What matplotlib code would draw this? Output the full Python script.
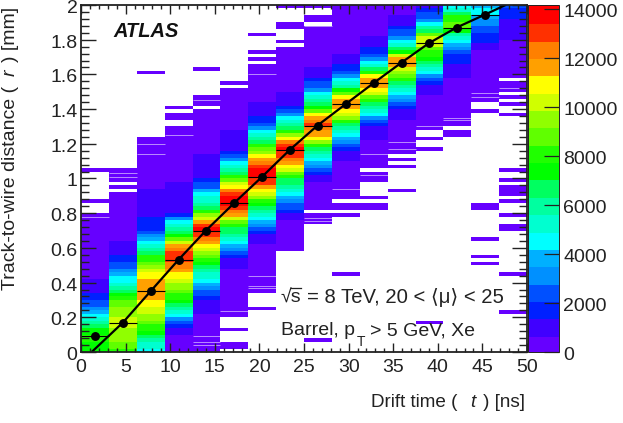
import numpy as np
import matplotlib
matplotlib.use("Agg")
import matplotlib.pyplot as plt
from matplotlib.colors import ListedColormap
from matplotlib.lines import Line2D
from matplotlib.ticker import MultipleLocator
from matplotlib.transforms import ScaledTranslation

plt.rcParams["font.family"] = ["Liberation Sans", "DejaVu Sans"]

# Histogram binning: 16 drift-time bins, 100 track-to-wire distance bins
t_edges = np.linspace(0, 50, 17)
r_edges = np.linspace(0, 2, 101)
background_count = 350
z_max = 14180

# Peak region of every time bin, in hundreds of entries, listed from core_start upward
core_start = [0, 0, 0, 0, 10, 23, 30, 37, 48, 54, 60, 66, 73, 78, 86, 89]
col00 = [72, 75, 76, 78, 78, 76, 72, 66, 60, 52, 46, 40, 34, 28, 24, 20, 16, 13, 11, 9, 8, 7]
col01 = [84, 88, 91, 94, 96, 98, 99, 100, 100, 100, 99, 97, 94, 90, 86, 81, 75, 69, 63, 56, 49,
         43, 37, 32, 27, 23, 19, 16, 13, 11, 9, 8]
col02 = [45, 50, 56, 62, 68, 74, 79, 84, 89, 94, 98, 102, 106, 110, 113, 115, 117, 119, 119, 118,
         116, 113, 109, 104, 98, 92, 85, 78, 70, 61, 52, 45, 37, 30, 25, 20, 18, 16, 15, 14, 11,
         10, 10, 9, 9, 8, 8, 7]
col03 = [6, 6, 6, 6, 7, 9, 12, 16, 25, 35, 45, 52, 60, 66, 72, 78, 84, 89, 94, 98, 103, 107, 111,
         117, 122, 127, 130, 132, 132, 124, 115, 106, 90, 75, 67, 58, 52, 45, 30, 18, 13, 12, 12,
         11, 11, 10, 10, 9, 8, 7]
col04 = [7, 8, 9, 11, 14, 18, 23, 28, 33, 38, 45, 50, 56, 62, 68, 74, 81, 88, 96, 105, 111, 117,
         123, 128, 132, 135, 128, 118, 106, 94, 82, 70, 62, 55, 50, 45, 37, 28, 22, 18, 14, 12,
         11, 10, 10, 9, 8, 7]
col05 = [7, 9, 11, 14, 18, 23, 29, 36, 45, 52, 58, 64, 70, 80, 92, 105, 115, 123, 130, 136, 138,
         137, 132, 123, 113, 105, 90, 78, 70, 62, 54, 45, 35, 25, 18, 14, 12, 11, 10, 9, 8]
col06 = [7, 8, 10, 13, 18, 22, 30, 38, 45, 52, 60, 68, 75, 85, 95, 106, 113, 120, 128, 134, 138,
         138, 136, 132, 125, 116, 108, 98, 88, 78, 70, 60, 52, 45, 35, 26, 20, 15, 12, 10, 9, 8, 7]
col07 = [7, 8, 11, 16, 22, 28, 35, 40, 45, 52, 58, 64, 70, 80, 90, 100, 108, 116, 122, 128, 133,
         135, 132, 124, 110, 96, 84, 70, 62, 54, 45, 34, 24, 18, 14, 12, 10, 8, 7]
col08 = [7, 9, 13, 20, 27, 33, 39, 45, 54, 62, 70, 85, 97, 107, 114, 120, 125, 128, 126, 118, 108,
         92, 72, 66, 58, 52, 45, 35, 28, 22, 18, 14, 11, 9, 7]
col09 = [7, 8, 10, 12, 15, 22, 30, 38, 45, 55, 62, 70, 82, 94, 106, 112, 117, 120, 118, 108, 90,
         72, 60, 52, 45, 33, 26, 20, 16, 13, 10, 8, 7]
col10 = [7, 8, 9, 11, 14, 18, 24, 34, 45, 54, 62, 70, 82, 92, 100, 107, 115, 120, 118, 108, 85, 70,
         55, 45, 32, 26, 20, 16, 13, 11, 9, 7]
col11 = [7, 8, 9, 11, 15, 22, 30, 38, 45, 55, 63, 70, 80, 90, 98, 106, 115, 118, 116, 106, 75, 65,
         55, 45, 34, 28, 22, 16, 13, 10, 8, 7]
col12 = [7, 8, 10, 13, 18, 25, 35, 45, 54, 60, 66, 72, 78, 85, 92, 100, 103, 100, 90, 70, 58, 45,
         34, 27, 22, 16, 13]
col13 = [7, 8, 10, 12, 14, 16, 18, 20, 24, 30, 38, 45, 52, 62, 75, 88, 88, 85, 78, 68, 55, 45]
col14 = [7, 8, 12, 15, 18, 20, 23, 26, 30, 35, 40, 46, 46, 38]
col15 = [7, 8, 9, 10, 11, 12, 14, 16, 18, 20, 22]
core_profiles = [col00, col01, col02, col03, col04, col05, col06, col07,
                 col08, col09, col10, col11, col12, col13, col14, col15]

# Contiguous populated rows of each time bin
filled_low = [0, 0, 0, 0, 0, 10, 17, 29, 41, 44, 49, 57, 64, 65, 72, 79]
filled_high = [39, 52, 61, 64, 73, 77, 82, 87, 99, 99, 99, 99, 99, 99, 99, 99]

# Single isolated rows away from the populated band
lone_rows = [[43, 52], [], [80], [67, 68, 70], [81], [1, 2, 6], [12, 84, 86, 91], [89, 93, 94, 99],
             [3, 37, 38, 39], [22, 39, 41, 42], [41, 42, 44], [46, 53, 55], [8, 58, 61], [62, 63],
             [25, 27, 32, 41, 42, 69],
             [11, 22, 35, 36, 39, 43, 45, 46, 47, 49, 52, 68, 71, 73, 75, 76, 77]]
# Empty rows inside the populated band
empty_rows = [[], [46, 48], [], [], [70], [76], [], [], [40, 94, 97, 98], [], [52], [], [], [], [], [78]]
# Narrow low-occupancy dips, as (time bin, distance)
faint_dips = [(0, 0.78), (1, 1.03), (1, 1.01), (2, 1.20), (2, 1.14), (3, 1.25), (4, 1.45), (4, 0.09),
              (4, 0.06), (4, 0.04), (5, 0.235), (6, 1.60), (6, 0.437), (6, 0.383), (6, 0.37),
              (8, 1.88), (8, 0.77), (8, 0.755), (9, 0.94), (10, 1.14), (10, 1.02), (11, 1.21),
              (11, 1.17), (12, 1.30), (13, 1.35), (13, 1.34), (14, 1.49), (14, 1.47), (15, 1.52)]

# Mean distance for the first fifteen time bins and the fitted r(t) relation
profile_t = [1.5625, 4.6875, 7.8125, 10.9375, 14.0625, 17.1875, 20.3125, 23.4375, 26.5625,
             29.6875, 32.8125, 35.9375, 39.0625, 42.1875, 45.3125]
profile_r = [0.09, 0.17, 0.35, 0.53, 0.70, 0.86, 1.01, 1.165, 1.305, 1.43, 1.55, 1.667, 1.78, 1.87, 1.945]
fit_t = [1.2, 4.7, 7.8, 10.9, 14.0, 17.2, 20.3, 23.4, 26.5, 29.7, 32.8, 35.9, 39.0, 42.1, 45.3, 47.6]
fit_r = [0.0, 0.17, 0.35, 0.53, 0.70, 0.86, 1.01, 1.165, 1.305, 1.43, 1.55, 1.667, 1.78, 1.87, 1.945, 2.0]

palette = ["#6600ff", "#4000ff", "#0020ff", "#0050ff", "#0090ff", "#00b0ff", "#00ffff", "#00ffd0",
           "#00ffa0", "#00ff60", "#00ff00", "#20ff00", "#60ff00", "#90ff00", "#d0ff00", "#ffff00",
           "#ffa000", "#ff8000", "#ff3000", "#ff0000"]
x_ticks = [0, 5, 10, 15, 20, 25, 30, 35, 40, 45, 50]
y_ticks = [0, 0.2, 0.4, 0.6, 0.8, 1, 1.2, 1.4, 1.6, 1.8, 2]
y_tick_text = ["0", "0.2", "0.4", "0.6", "0.8", "1", "1.2", "1.4", "1.6", "1.8", "2"]
z_ticks = [0, 2000, 4000, 6000, 8000, 10000, 12000, 14000]

# Assemble the two-dimensional histogram
counts = np.full((len(r_edges) - 1, len(t_edges) - 1), np.nan)
for col in range(counts.shape[1]):
    counts[filled_low[col]:filled_high[col] + 1, col] = background_count
    for row in lone_rows[col]:
        counts[row, col] = background_count
    for row in empty_rows[col]:
        counts[row, col] = np.nan
    for offset, hundreds in enumerate(core_profiles[col]):
        counts[core_start[col] + offset, col] = hundreds * 100

W, H = 623, 423
fig = plt.figure(figsize=(W / 100, H / 100), dpi=100)
ax = fig.add_axes([81 / W, 1 - 352 / H, 446 / W, 347 / H])
cax = fig.add_axes([528 / W, 1 - 352 / H, 31 / W, 347 / H])

cmap = ListedColormap(palette)
cmap.set_bad("white")
mesh = ax.pcolormesh(t_edges, r_edges, np.ma.masked_invalid(counts), cmap=cmap, vmin=0, vmax=z_max,
                     linewidth=0, rasterized=True)

# Pale dips drawn as hairlines across a single time bin
bin_width = t_edges[1] - t_edges[0]
for col, r in faint_dips:
    ax.hlines(r, t_edges[col], t_edges[col] + bin_width, colors="white", lw=0.7, alpha=0.55, zorder=2)

ax.plot(fit_t, fit_r, color="black", lw=1.6, zorder=3, solid_capstyle="round")
ax.errorbar(profile_t, profile_r, xerr=bin_width / 2, fmt="o", color="black", ms=5.4,
            elinewidth=0.8, capsize=0, zorder=4)

ax.set_xlim(0, 50)
ax.set_ylim(0, 2)
ax.set_xticks(x_ticks)
ax.set_yticks(y_ticks)
ax.set_yticklabels(y_tick_text)
ax.xaxis.set_minor_locator(MultipleLocator(1))
ax.yaxis.set_minor_locator(MultipleLocator(0.04))
ax.tick_params(which="major", axis="x", direction="in", top=True, bottom=True, length=6.5, width=1.0,
               labelsize=14, pad=5, color="#222222", labelcolor="#222222")
ax.tick_params(which="minor", axis="x", direction="in", top=True, bottom=True, length=3.2, width=1.0,
               color="#222222")
ax.tick_params(which="major", axis="y", direction="in", left=True, right=True, length=11, width=1.0,
               labelsize=14, pad=2.5, color="#222222", labelcolor="#222222")
ax.tick_params(which="minor", axis="y", direction="in", left=True, right=True, length=5.5, width=1.0,
               color="#222222")
ax.set_axisbelow(False)
for side in ax.spines.values():
    side.set_linewidth(1.3)
    side.set_color("#222222")
    side.set_zorder(6)

cbar = fig.colorbar(mesh, cax=cax, ticks=z_ticks, drawedges=False)
cbar.solids.set_edgecolor("face")
cbar.minorticks_off()
cax.tick_params(axis="y", direction="in", right=True, left=False, length=11, width=0.9,
                labelsize=14, pad=3, color="#222222", labelcolor="#222222")
cbar.outline.set_linewidth(0.7)
cbar.outline.set_edgecolor("#222222")

# Vertical tick labels sit a little below their ticks
for tick_label in ax.get_yticklabels():
    tick_label.set_transform(tick_label.get_transform() + ScaledTranslation(0, -1.5 / 100, fig.dpi_scale_trans))
for tick_label in cax.get_yticklabels():
    tick_label.set_transform(tick_label.get_transform() + ScaledTranslation(0, -1 / 100, fig.dpi_scale_trans))


def label_at(px, py, text, **style):
    style.setdefault("color", "#222222")
    fig.text(px / W, 1 - py / H, text, **style)


# Axis titles, with the variable set in italics between its brackets
label_at(371, 407, "Drift time (", fontsize=13.6)
label_at(470, 407, "t", fontsize=13.6, fontstyle="italic")
label_at(483, 407, ") [ns]", fontsize=13.6)
vertical = dict(fontsize=14, rotation=90, rotation_mode="anchor", ha="left", va="baseline")
label_at(15, 290, "Track-to-wire distance (", **vertical)
label_at(15, 76, "r", fontstyle="italic", **vertical)
label_at(15, 62, ") [mm]", **vertical)

label_at(113, 36.7, "ATLAS", fontsize=14.4, fontweight="bold", fontstyle="italic", color="#111111")

# Centre-of-mass energy with a drawn radical bar over the s
label_at(280.5, 303, "√s", fontsize=14)
fig.add_artist(Line2D([290.5 / W, 300.5 / W], [1 - 287.5 / H, 1 - 287.5 / H], color="#222222", lw=0.9))
label_at(307, 303, "= 8 TeV, 20 < ⟨μ⟩ < 25", fontsize=14.6)

label_at(281, 335, "Barrel, p", fontsize=14)
label_at(357, 346, "T", fontsize=10)
label_at(370, 335, "> 5 GeV, Xe", fontsize=14)

fig.savefig("out.png", dpi=100)
